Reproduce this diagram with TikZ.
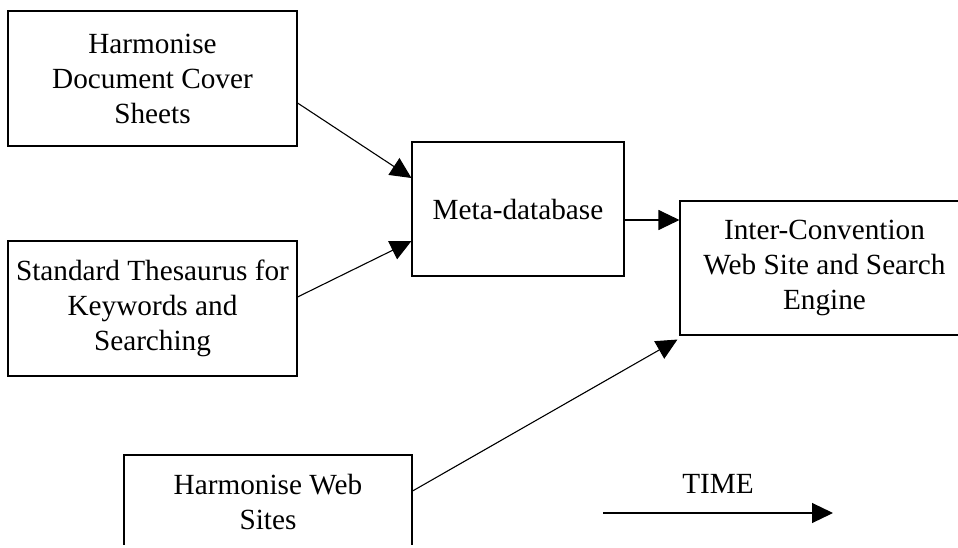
\documentclass[tikz,border=0pt]{standalone}
\usepackage{fontspec}
\setmainfont{Liberation Serif}
\usetikzlibrary{arrows.meta}

\tikzset{
  box/.style={draw, line width=1.1pt, align=center, inner sep=0pt,
              font=\fontsize{29.25}{35}\selectfont},
  plain/.style={font=\fontsize{29.25}{35}\selectfont},
}

\begin{document}
\begin{tikzpicture}[x=1pt, y=-1pt, line width=1.1pt,
                    >={Triangle[length=21pt,width=20pt]}]
                \useasboundingbox (0,0) rectangle (958,548);
                \clip (0,0) rectangle (958,544);

                \node[box, minimum width=289pt, minimum height=135pt] (sheets)    at (152.5,78.5)  {Harmonise\\Document Cover\\Sheets};
                \node[box, minimum width=289pt, minimum height=135pt] (thesaurus) at (152.5,308.5) {Standard Thesaurus for\\Keywords and\\Searching};
                \node[box, minimum width=212pt, minimum height=134pt] (metadb)    at (518,209)     {Meta-database};
                \node[box, minimum width=289pt, minimum height=134pt] (portal)    at (824.5,268)   {Inter-Convention\\Web Site and Search\\Engine};
                \node[box, minimum width=288pt, minimum height=93pt]  (websites)  at (268,501.5)   {Harmonise Web\\Sites};

                \node[plain] (time) at (718,484) {TIME};
                \coordinate (t0) at (603,513);
                \coordinate (t1) at (833,513);

                \path[->]
                ([yshift=-24.5pt]sheets.east)   edge ([yshift=31pt]metadb.west)
                ([yshift=11.5pt]thesaurus.east) edge ([yshift=-32pt]metadb.west)
                ([yshift=-11pt]metadb.east)     edge ([yshift=48pt]portal.west)
                ([yshift=10.5pt]websites.east)  edge ([shift={(-2pt,-4pt)}]portal.south west)
                (t0)                            edge (t1);
            \end{tikzpicture}
\end{document}
